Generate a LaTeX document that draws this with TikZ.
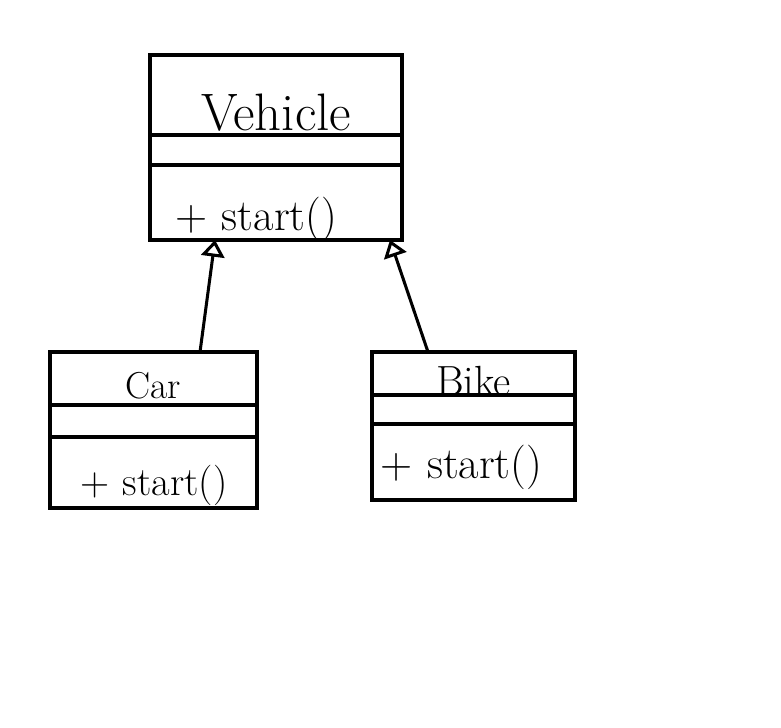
\documentclass[tikz,border=0pt]{standalone}
\usetikzlibrary{positioning,arrows.meta}

\begin{document}
\begin{tikzpicture}[x=0.3mm, y=-0.3mm,
    part/.style={draw, line width=3pt, inner sep=0pt, outer sep=0pt, text depth=0pt},
    erbt/.style={line width=2.6pt, -{Triangle[open, length=5mm, width=7mm]}},
    font=\fontsize{38}{42}\selectfont]
    % Bildbereich
    \useasboundingbox[fill=white] (0,0) rectangle (781,727);
    % Oberklasse
    \node[part, minimum width=75.6mm, minimum height=24mm, text height=21mm, font=\fontsize{45}{50}\selectfont] (vehicle) at (276,95) {Vehicle};
    \node[part, minimum width=75.6mm, minimum height=9mm, below=0pt of vehicle] (vehicleAttr) {};
    \node[part, minimum width=75.6mm, minimum height=22.5mm, text height=16.5mm, text width=71mm, align=left, below=0pt of vehicleAttr] (vehicleOps) {\hspace*{5.2mm}+ start()};
    % Unterklassen
    \node[part, minimum width=62.1mm, minimum height=15.9mm, text height=11.7mm, font=\fontsize{32}{36}\selectfont] (car) at (153.5,378.5) {Car};
    \node[part, minimum width=62.1mm, minimum height=9.6mm, below=0pt of car] (carAttr) {};
    \node[part, minimum width=62.1mm, minimum height=21.3mm, text height=13.5mm, text width=56mm, align=left, below=0pt of carAttr, font=\fontsize{34.5}{38}\selectfont] (carOps) {\hspace*{6mm}+ start()};
    \node[part, minimum width=60.9mm, minimum height=12.9mm, text height=12.9mm, font=\fontsize{36}{40}\selectfont] (bike) at (473.5,373.5) {Bike};
    \node[part, minimum width=60.9mm, minimum height=8.7mm, below=0pt of bike] (bikeAttr) {};
    \node[part, minimum width=60.9mm, minimum height=22.8mm, text height=9.6mm, text width=58mm, align=left, below=0pt of bikeAttr] (bikeOps) {\hspace*{1mm}+ start()};
    % Vererbung
    \draw[erbt] ([xshift=13.95mm]car.north) -- ([xshift=-18.3mm]vehicleOps.south);
    \draw[erbt] ([xshift=-13.65mm]bike.north) -- ([xshift=34.2mm]vehicleOps.south);
\end{tikzpicture}
\end{document}
